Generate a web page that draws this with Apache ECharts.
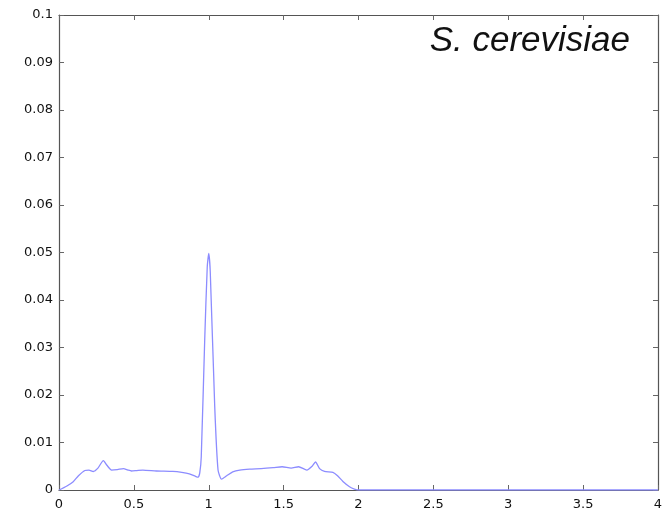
<!DOCTYPE html>
<html><head><meta charset="utf-8">
<script src="https://cdn.jsdelivr.net/npm/echarts@6/dist/echarts.min.js"></script>
<style>html,body{margin:0;padding:0;background:#fff}#c{width:669px;height:514px}</style>
</head><body><div id="c"></div>
<script>
const xValues = [0, 0.05, 0.095, 0.13, 0.173, 0.2, 0.229, 0.26, 0.296, 0.32, 0.351, 0.39, 0.43, 0.46, 0.484, 0.52, 0.56, 0.65, 0.76, 0.82, 0.87, 0.91, 0.929, 0.94, 0.95, 0.973, 0.99, 1.0, 1.01, 1.04, 1.062, 1.085, 1.12, 1.16, 1.207, 1.273, 1.35, 1.43, 1.49, 1.55, 1.6, 1.655, 1.69, 1.713, 1.74, 1.773, 1.829, 1.86, 1.896, 1.94, 1.973, 2.0, 2.5, 3.0, 3.5, 4.0];
const yValues = [0, 0.0008, 0.00175, 0.003, 0.0041, 0.0042, 0.0039, 0.0046, 0.0062, 0.0052, 0.0042, 0.0043, 0.0045, 0.0042, 0.004, 0.0041, 0.0042, 0.004, 0.0039, 0.0037, 0.0034, 0.0029, 0.0027, 0.0036, 0.007, 0.0316, 0.047, 0.0498, 0.046, 0.0175, 0.0042, 0.0023, 0.003, 0.0038, 0.0042, 0.0044, 0.0045, 0.0047, 0.0049, 0.0046, 0.0049, 0.0042, 0.005, 0.0059, 0.0045, 0.0039, 0.0037, 0.003, 0.0018, 0.0007, 0.0002, 0, 0, 0, 0, 0];
const titleText = 'S. cerevisiae';
const xTicks = {min: 0, max: 4, interval: 0.5};
const yTicks = {min: 0, max: 0.1, interval: 0.01};

const chart = echarts.init(document.getElementById('c'), null, {renderer: 'canvas'});
const pts = xValues.map((x, i) => [x, yValues[i]]);
const lbl = {color: '#111', fontFamily: 'DejaVu Sans, sans-serif', fontSize: 13};
const axLine = {onZero: false, lineStyle: {color: '#555', width: 1.2}};
const tick = {inside: true, length: 5, lineStyle: {color: '#666'}};
chart.setOption({
  animation: false,
  grid: {left: 59, right: 11, top: 15, bottom: 24, containLabel: false},
  title: {text: titleText, right: 34, top: 19, textStyle: {fontFamily: 'Liberation Sans, Arial, sans-serif', fontStyle: 'italic', fontWeight: 'normal', fontSize: 35, color: '#111'}},
  xAxis: [
    {type: 'value', min: xTicks.min, max: xTicks.max, interval: xTicks.interval, position: 'bottom',
     axisLine: axLine, axisTick: tick, splitLine: {show: false},
     axisLabel: Object.assign({margin: 8, formatter: v => String(v)}, lbl)},
    {type: 'value', min: xTicks.min, max: xTicks.max, interval: xTicks.interval, position: 'top',
     axisLine: axLine, axisTick: tick, splitLine: {show: false}, axisLabel: {show: false}}
  ],
  yAxis: [
    {type: 'value', min: yTicks.min, max: yTicks.max, interval: yTicks.interval, position: 'left',
     axisLine: axLine, axisTick: tick, splitLine: {show: false},
     axisLabel: Object.assign({margin: 6, formatter: v => String(+v.toFixed(2))}, lbl)},
    {type: 'value', min: yTicks.min, max: yTicks.max, interval: yTicks.interval, position: 'right',
     axisLine: axLine, axisTick: tick, splitLine: {show: false}, axisLabel: {show: false}}
  ],
  series: [{type: 'line', data: pts, showSymbol: false, smooth: 0.2,
    lineStyle: {color: '#8c8cff', width: 1.3}}]
});
</script></body></html>
